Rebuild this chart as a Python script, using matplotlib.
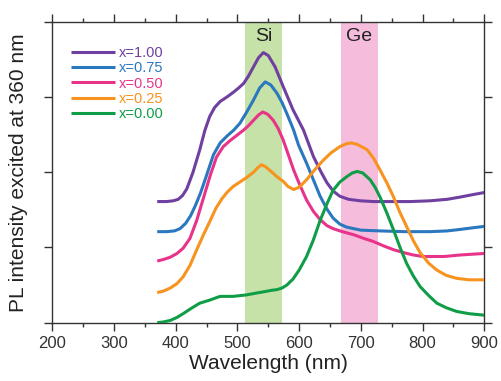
import matplotlib
matplotlib.use("Agg")
import matplotlib.pyplot as plt
from matplotlib.ticker import MultipleLocator, NullFormatter

plt.rcParams['font.family'] = ['Liberation Sans', 'DejaVu Sans']

labels = ["x=1.00", "x=0.75", "x=0.50", "x=0.25", "x=0.00"]
colors = ["#6f40a0", "#2b78bf", "#e8338a", "#f7931e", "#0f9d48"]

wl_100 = [370, 385, 396, 404, 411, 418, 428, 439, 447, 455, 463, 472, 483, 493, 502, 510, 518, 526, 534, 542, 550, 561, 574, 590, 607, 623, 635, 645, 655, 666, 680, 699, 720, 747, 780, 812, 840, 861, 880, 900]
pl_100 = [1.61, 1.61, 1.62, 1.64, 1.69, 1.78, 2.00, 2.30, 2.55, 2.74, 2.86, 2.94, 3.00, 3.06, 3.12, 3.18, 3.28, 3.40, 3.52, 3.59, 3.55, 3.40, 3.14, 2.83, 2.56, 2.21, 2.01, 1.86, 1.75, 1.68, 1.64, 1.62, 1.61, 1.61, 1.61, 1.62, 1.64, 1.67, 1.70, 1.73]

wl_075 = [370, 385, 398, 407, 416, 424, 432, 440, 450, 461, 472, 483, 494, 504, 515, 526, 536, 545, 554, 564, 572, 580, 591, 599, 612, 623, 634, 645, 655, 666, 677, 700, 731, 770, 812, 840, 861, 880, 900]
pl_075 = [1.21, 1.21, 1.22, 1.25, 1.32, 1.42, 1.56, 1.72, 1.96, 2.23, 2.39, 2.48, 2.56, 2.65, 2.80, 2.96, 3.12, 3.20, 3.16, 3.05, 2.93, 2.78, 2.56, 2.36, 2.12, 1.90, 1.68, 1.51, 1.39, 1.31, 1.27, 1.23, 1.22, 1.21, 1.21, 1.22, 1.24, 1.26, 1.28]

wl_050 = [370, 380, 391, 402, 412, 423, 434, 445, 456, 466, 477, 488, 499, 510, 518, 526, 534, 541, 549, 558, 566, 574, 583, 591, 600, 612, 623, 634, 645, 655, 670, 688, 705, 720, 737, 753, 770, 785, 800, 812, 835, 861, 880, 900]
pl_050 = [0.82, 0.84, 0.87, 0.92, 0.99, 1.12, 1.36, 1.66, 1.96, 2.20, 2.34, 2.42, 2.49, 2.56, 2.62, 2.69, 2.76, 2.80, 2.77, 2.69, 2.58, 2.43, 2.22, 2.03, 1.85, 1.63, 1.48, 1.37, 1.29, 1.25, 1.21, 1.17, 1.12, 1.08, 1.02, 0.97, 0.93, 0.90, 0.88, 0.88, 0.88, 0.90, 0.91, 0.92]

wl_025 = [370, 380, 391, 402, 412, 423, 434, 445, 456, 465, 475, 484, 493, 504, 515, 526, 533, 539, 546, 556, 564, 574, 582, 591, 600, 612, 625, 639, 652, 666, 677, 685, 694, 710, 721, 731, 742, 753, 763, 774, 785, 796, 810, 823, 838, 855, 875, 900]
pl_025 = [0.40, 0.42, 0.46, 0.52, 0.61, 0.76, 0.97, 1.17, 1.36, 1.52, 1.65, 1.74, 1.81, 1.87, 1.93, 2.00, 2.06, 2.10, 2.07, 2.00, 1.94, 1.88, 1.81, 1.77, 1.80, 1.90, 2.03, 2.16, 2.26, 2.34, 2.38, 2.39, 2.37, 2.30, 2.18, 2.03, 1.86, 1.67, 1.47, 1.28, 1.09, 0.93, 0.79, 0.70, 0.63, 0.59, 0.57, 0.57]

wl_000 = [370, 380, 391, 402, 412, 425, 439, 455, 465, 472, 483, 493, 504, 515, 528, 542, 555, 564, 572, 580, 590, 600, 612, 623, 634, 645, 655, 666, 677, 686, 694, 703, 715, 723, 731, 742, 753, 763, 774, 785, 796, 810, 823, 838, 855, 875, 900]
pl_000 = [0.00, 0.01, 0.03, 0.07, 0.12, 0.19, 0.26, 0.30, 0.33, 0.35, 0.35, 0.35, 0.36, 0.37, 0.39, 0.41, 0.43, 0.44, 0.46, 0.50, 0.58, 0.70, 0.88, 1.10, 1.36, 1.58, 1.76, 1.87, 1.94, 1.99, 2.01, 1.99, 1.90, 1.80, 1.67, 1.46, 1.23, 1.01, 0.79, 0.62, 0.48, 0.36, 0.26, 0.20, 0.15, 0.12, 0.10]

si_band = (512, 572)
ge_band = (667, 727)

series = [(wl_100, pl_100), (wl_075, pl_075), (wl_050, pl_050), (wl_025, pl_025), (wl_000, pl_000)]

fig = plt.figure(figsize=(5.01, 3.81), dpi=100)
ax = fig.add_axes([0.1044, 0.153, 0.8623, 0.790])

ax.axvspan(*si_band, color="#c6e2a8", lw=0, zorder=0)
ax.axvspan(*ge_band, color="#f5bddb", lw=0, zorder=0)

for (wl, pl), c, lab in zip(series, colors, labels):
    ax.plot(wl, pl, color=c, lw=2.2, label=lab, solid_capstyle='butt',
            solid_joinstyle='round', zorder=3)

ax.text(sum(si_band) / 2, 3.80, "Si", ha="center", va="center", fontsize=14, color="#222222")
ax.text(sum(ge_band) / 2, 3.80, "Ge", ha="center", va="center", fontsize=14, color="#222222")

ax.set_xlim(200, 900)
ax.set_ylim(0, 4)
ax.xaxis.set_major_locator(MultipleLocator(100))
ax.xaxis.set_minor_locator(MultipleLocator(50))
ax.yaxis.set_major_locator(MultipleLocator(1))
ax.yaxis.set_major_formatter(NullFormatter())
ax.tick_params(which="both", direction="out", top=True, right=True, color="#333333", width=1.0)
ax.tick_params(which="major", length=5.5, labelsize=12, labelcolor="#333333", pad=4)
ax.tick_params(which="minor", length=3)
for s in ax.spines.values():
    s.set_color("#333333")
    s.set_linewidth(1.0)

ax.set_xlabel("Wavelength (nm)", fontsize=15, color="#222222", labelpad=2)
ax.set_ylabel("PL intensity excited at 360 nm", fontsize=15, color="#222222", labelpad=8)

leg = ax.legend(loc="upper left", bbox_to_anchor=(0.03, 0.94), frameon=False, fontsize=10.5,
                handlelength=3.0, handletextpad=0.3, labelspacing=0.1, borderaxespad=0)
for t, c in zip(leg.get_texts(), colors):
    t.set_color(c)

fig.savefig("out.png", dpi=100)
